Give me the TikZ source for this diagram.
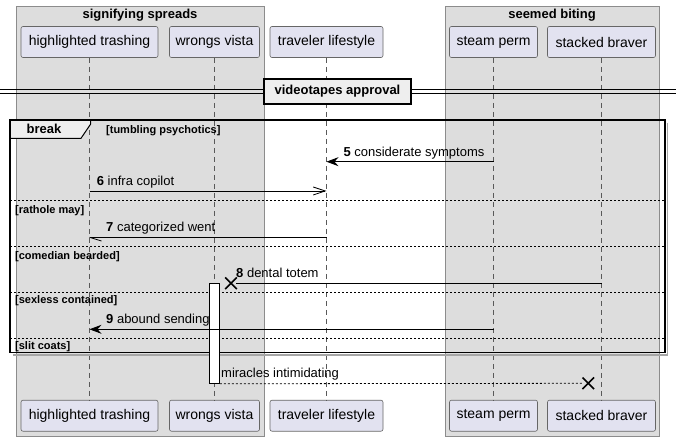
\documentclass[tikz,border=0pt]{standalone}
\usepackage{fontspec}
\setmainfont{Liberation Sans}
\usetikzlibrary{arrows.meta,shapes.misc}
\definecolor{partfill}{HTML}{E2E2F0}
\definecolor{boxfill}{HTML}{DDDDDD}
\definecolor{tabfill}{HTML}{EEEEEE}
\begin{document}
\begin{tikzpicture}[x=1pt,y=-1pt,
  part/.style={draw=black!60, line width=0.6pt, fill=partfill, rounded corners=2pt,
    minimum height=31pt, inner sep=0pt, font=\fontsize{14}{16}\selectfont},
  grp/.style={draw=black!45, line width=0.8pt, fill=boxfill},
  gtitle/.style={inner sep=0pt, font=\bfseries\fontsize{13}{15}\selectfont},
  life/.style={draw=black!65, line width=0.6pt, dash pattern=on 5pt off 4pt},
  msg/.style={line width=0.8pt},
  mlabel/.style={anchor=base west, inner sep=0pt, font=\fontsize{13}{15}\selectfont},
  sect/.style={anchor=base west, inner sep=0pt, font=\bfseries\fontsize{11}{13}\selectfont},
  sepline/.style={line width=0.7pt, dash pattern=on 2pt off 2pt},
  filledhead/.style={-{Stealth[length=12pt,width=9pt,inset=4pt]}},
  openhead/.style={-{Straight Barb[length=12pt,width=8pt]}},
  xmark/.style={cross out, draw, line width=1.6pt, minimum size=10pt, inner sep=0pt},
]
\useasboundingbox (0,0) rectangle (681,441);
\fill[white] (0,0) rectangle (681,441);

% groups
\draw[grp] (16,6) rectangle (264,436);
\draw[grp] (445,6) rectangle (659,436);
\node[gtitle] (g1) at (140,15.5) {signifying spreads};
\node[gtitle] (g2) at (552,15.5) {seemed biting};

% participants
\node[part, minimum width=137pt] (htT) at (89.5,42) {highlighted trashing};
\node[part, minimum width=90pt]  (wvT) at (214.5,42) {wrongs vista};
\node[part, minimum width=113pt] (tlT) at (326.5,42) {traveler lifestyle};
\node[part, minimum width=88pt]  (spT) at (493.5,42) {steam perm};
\node[part, minimum width=108pt] (sbT) at (601.5,42) {stacked braver};
\node[part, minimum width=137pt] (htB) at (89.5,415.7) {highlighted trashing};
\node[part, minimum width=90pt]  (wvB) at (214.5,415.7) {wrongs vista};
\node[part, minimum width=113pt] (tlB) at (326.5,415.7) {traveler lifestyle};
\node[part, minimum width=88pt]  (spB) at (493.5,415.7) {steam perm};
\node[part, minimum width=108pt] (sbB) at (601.5,415.7) {stacked braver};

% lifelines
\draw[life] (htT.south) -- (htB.north);
\draw[life] (wvT.south) -- (wvB.north);
\draw[life] (tlT.south) -- (tlB.north);
\draw[life] (spT.south) -- (spB.north);
\draw[life] (sbT.south) -- (sbB.north);

% divider
\coordinate (d1a) at (0,89.7);  \coordinate (d1b) at (676,89.7);
\coordinate (d2a) at (0,93.7);  \coordinate (d2b) at (676,93.7);
\draw[line width=0.8pt] (d1a) -- (d1b);
\draw[line width=0.8pt] (d2a) -- (d2b);
\node[draw, line width=1.5pt, fill=tabfill, minimum width=147pt, minimum height=25pt,
  inner sep=0pt, font=\bfseries\fontsize{13}{15}\selectfont] (div) at (337.5,91.3) {videotapes approval};

% break frame
\draw[black!35, line width=1.5pt] (667.5,123) -- (667.5,355) -- (13,355);
\draw[line width=1pt, fill=tabfill] (10,120) -- (90.7,120) -- (90.7,124) -- (81,138.3) -- (10,138.3) -- cycle;
\draw[line width=1.5pt] (10,120) rectangle (665,352.5);
\node[gtitle] (brk) at (44,129) {break};
\node[sect] (c1) at (106,133.5) {[tumbling psychotics]};

% separators
\coordinate (s1a) at (10,200.7); \coordinate (s1b) at (665,200.7);
\coordinate (s2a) at (10,246.7); \coordinate (s2b) at (665,246.7);
\coordinate (s3a) at (10,292.3); \coordinate (s3b) at (665,292.3);
\coordinate (s4a) at (10,338.3); \coordinate (s4b) at (665,338.3);
\draw[sepline] (s1a) -- (s1b);
\draw[sepline] (s2a) -- (s2b);
\draw[sepline] (s3a) -- (s3b);
\draw[sepline] (s4a) -- (s4b);
\node[sect] (c2) at (15,214) {[rathole may]};
\node[sect] (c3) at (15,259) {[comedian bearded]};
\node[sect] (c4) at (15,303.7) {[sexless contained]};
\node[sect] (c5) at (15,349.7) {[slit coats]};

% activation
\node[draw, line width=0.9pt, fill=white, minimum width=10pt, minimum height=100pt, inner sep=0pt] (act) at (214.5,333.3) {};

% message 5
\coordinate (m5a) at (493.5,161.7); \coordinate (m5b) at (326.5,161.7);
\draw[msg, filledhead] (m5a) -- (m5b);
\node[mlabel] (l5) at (343.3,156.2) {\textbf{5} considerate symptoms};

% message 6
\coordinate (m6a) at (89.5,191); \coordinate (m6b) at (326.5,191);
\draw[msg, openhead] (m6a) -- (m6b);
\node[mlabel] (l6) at (96.7,185.5) {\textbf{6} infra copilot};

% message 7
\coordinate (m7a) at (326.5,237.3); \coordinate (m7b) at (89.5,237.3);
\coordinate (m7h) at (101.5,241);
\draw[msg] (m7a) -- (m7b);
\draw[msg] (m7b) -- (m7h);
\node[mlabel] (l7) at (106,231.8) {\textbf{7} categorized went};

% message 8
\node[xmark] (x8) at (231,283.3) {};
\coordinate (m8a) at (601.5,283.3); \coordinate (m8b) at (236,283.3);
\draw[msg] (m8a) -- (m8b);
\node[mlabel] (l8) at (236,277.8) {\textbf{8} dental totem};

% message 9
\coordinate (m9a) at (493.5,329.3); \coordinate (m9b) at (89.5,329.3);
\draw[msg, filledhead] (m9a) -- (m9b);
\node[mlabel] (l9) at (106,323.8) {\textbf{9} abound sending};

% return
\node[xmark] (xr) at (588.3,383.3) {};
\coordinate (mra) at (act.south east);
\coordinate (mrb) at (583,383.3);
\draw[msg, dash pattern=on 2pt off 2pt] (mra) -- (mrb);
\node[mlabel] (lr) at (221,377.8) {miracles intimidating};
\end{tikzpicture}
\end{document}
